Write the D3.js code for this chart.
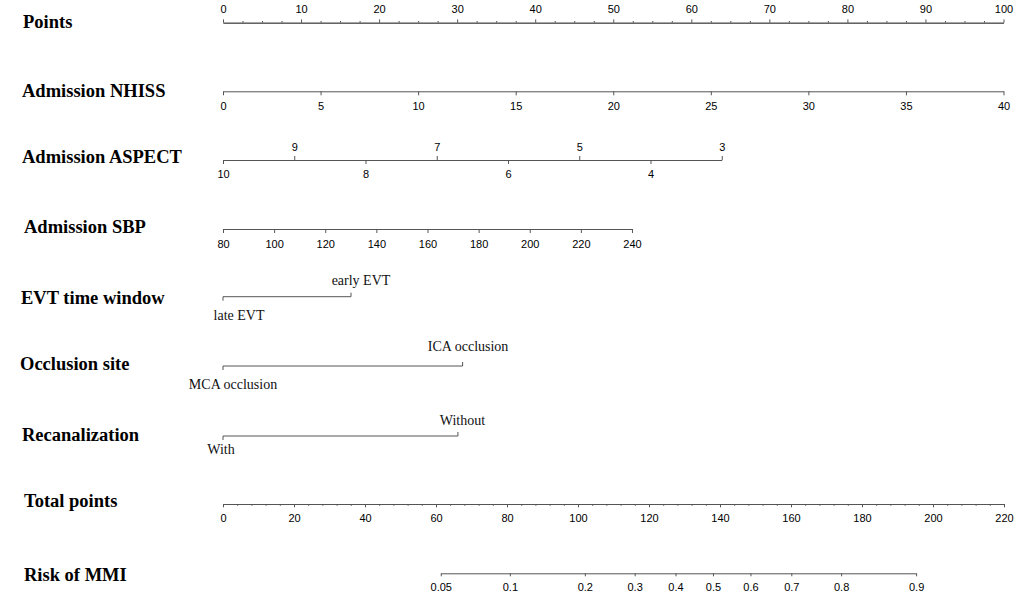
<!DOCTYPE html>
<html>
<head>
<meta charset="utf-8">
<script src="https://cdn.jsdelivr.net/npm/d3@7"></script>
<style>
  body { margin: 0; background: #fff; }
  .name { font-family: "Liberation Serif", "Times New Roman", serif; font-weight: bold; font-size: 18.5px; fill: #000; }
  .axis text { font-family: "Liberation Sans", Arial, sans-serif; font-size: 11px; fill: #000; }
  .axis path, .axis line { stroke: #555; stroke-width: 1; }
  .cat text { font-family: "Liberation Serif", "Times New Roman", serif; font-size: 14px; fill: #111; }
</style>
</head>
<body>
<svg id="nomo" width="1021" height="596"></svg>
<script>
// row names
var rowNames = ["Points", "Admission NHISS", "Admission ASPECT", "Admission SBP",
    "EVT time window", "Occlusion site", "Recanalization", "Total points", "Risk of MMI"];

// points scale
var pointsTicks = [0, 10, 20, 30, 40, 50, 60, 70, 80, 90, 100];

// continuous predictors: value range and points at the far end
var nhissTicks = [0, 5, 10, 15, 20, 25, 30, 35, 40];
var nhissRange = [0, 40], nhissPoints = 100;

var aspectTicksTop = [9, 7, 5, 3];
var aspectTicksBottom = [10, 8, 6, 4];
var aspectRange = [10, 3], aspectPoints = 63.9;

var sbpTicks = [80, 100, 120, 140, 160, 180, 200, 220, 240];
var sbpRange = [80, 240], sbpPoints = 52.4;

// categorical predictors
var evtLevels = ["late EVT", "early EVT"];
var evtPoints = [0, 16.4];
var occlusionLevels = ["MCA occlusion", "ICA occlusion"];
var occlusionPoints = [0, 30.7];
var recanLevels = ["With", "Without"];
var recanPoints = [0, 30.1];

// total points and risk
var totalTicks = [0, 20, 40, 60, 80, 100, 120, 140, 160, 180, 200, 220];
var riskTicks = [0.05, 0.1, 0.2, 0.3, 0.4, 0.5, 0.6, 0.7, 0.8, 0.9];
var riskIntercept = -5.30, riskSlope = 0.0384;

// layout
var rowY = [22.7, 91.3, 160, 229, 296.7, 366, 436, 504, 573.3];
var nameY = [28, 97, 163, 233, 304, 370, 441, 507, 581];
var nameX = [23, 22, 22, 24, 21, 20, 22, 24, 24];

var svg = d3.select("#nomo");

var pointsX = d3.scaleLinear().domain([0, 100]).range([223, 1003.5]);
var totalX = d3.scaleLinear().domain([0, 220]).range([223, 1004]);

svg.selectAll("text.name")
    .data(rowNames)
    .enter().append("text")
    .attr("class", "name")
    .attr("x", function (d, i) { return nameX[i]; })
    .attr("y", function (d, i) { return nameY[i]; })
    .text(function (d) { return d; });

function drawAxis(y, axis, noLabels) {
    var g = svg.append("g")
        .attr("class", "axis")
        .attr("transform", "translate(0," + y + ")")
        .call(axis);
    g.attr("font-family", null).attr("font-size", null);
    if (noLabels) g.selectAll("text").remove();
    return g;
}

function valueScale(range, pts) {
    return d3.scaleLinear().domain(range).range([pointsX(0), pointsX(pts)]);
}

var plain = d3.format("d");

// Points
var ptsMinor = d3.range(0, 100.1, 2.5).filter(function (v) { return v % 10 !== 0; });
drawAxis(rowY[0], d3.axisTop(pointsX).tickValues(ptsMinor).tickSize(1.7).tickSizeOuter(0), true);
drawAxis(rowY[0], d3.axisTop(pointsX).tickValues(pointsTicks).tickSize(3.3).tickSizeOuter(0).tickPadding(6));

// Admission NHISS
var nhissX = valueScale(nhissRange, nhissPoints);
drawAxis(rowY[1], d3.axisBottom(nhissX).tickValues(nhissTicks).tickSize(4).tickSizeOuter(0).tickPadding(7));

// Admission ASPECT
var aspectX = valueScale(aspectRange, aspectPoints);
drawAxis(rowY[2], d3.axisTop(aspectX).tickValues(aspectTicksTop).tickFormat(plain)
    .tickSize(4).tickSizeOuter(0).tickPadding(5.3));
drawAxis(rowY[2], d3.axisBottom(aspectX).tickValues(aspectTicksBottom).tickFormat(plain)
    .tickSize(4).tickSizeOuter(0).tickPadding(6.5))
    .select(".domain").remove();

// Admission SBP
var sbpX = valueScale(sbpRange, sbpPoints);
drawAxis(rowY[3], d3.axisBottom(sbpX).tickValues(sbpTicks).tickSize(4).tickSizeOuter(0).tickPadding(7));

// categorical rows: low level below the line, high level above
var catRows = [
    {row: 4, levels: evtLevels, pts: evtPoints, nudge: [16, 10], above: 12, below: 23.3},
    {row: 5, levels: occlusionLevels, pts: occlusionPoints, nudge: [10, 5.5], above: 15, below: 23},
    {row: 6, levels: recanLevels, pts: recanPoints, nudge: [-2, 4.5], above: 11, below: 18}
];

catRows.forEach(function (c) {
    var g = svg.append("g")
        .attr("class", "axis cat")
        .attr("transform", "translate(0," + rowY[c.row] + ")");
    var xs = c.pts.map(function (p) { return pointsX(p); });
    g.append("path").attr("fill", "none")
        .attr("d", "M" + xs[0] + ",0H" + xs[1]);
    g.append("line").attr("x1", xs[0]).attr("x2", xs[0]).attr("y1", 0).attr("y2", 4);
    g.append("line").attr("x1", xs[1]).attr("x2", xs[1]).attr("y1", 0).attr("y2", -4);
    g.append("text").attr("text-anchor", "middle")
        .attr("x", xs[0] + c.nudge[0]).attr("y", c.below).text(c.levels[0]);
    g.append("text").attr("text-anchor", "middle")
        .attr("x", xs[1] + c.nudge[1]).attr("y", -c.above).text(c.levels[1]);
});

// Total points
var totMinor = d3.range(0, 220.1, 4).filter(function (v) { return v % 20 !== 0; });
drawAxis(rowY[7], d3.axisBottom(totalX).tickValues(totMinor).tickSize(1.8).tickSizeOuter(0), true);
drawAxis(rowY[7], d3.axisBottom(totalX).tickValues(totalTicks).tickSize(3.3).tickSizeOuter(0).tickPadding(6.5));

// Risk of MMI: linear in the logit of risk
function logit(p) { return Math.log(p / (1 - p)); }
function riskToX(p) { return totalX((logit(p) - riskIntercept) / riskSlope); }
var pLo = riskTicks[0], pHi = riskTicks[riskTicks.length - 1];
var riskX = d3.scaleLinear()
    .domain([logit(pLo), logit(pHi)])
    .range([riskToX(pLo), riskToX(pHi)]);
drawAxis(rowY[8], d3.axisBottom(riskX)
    .tickValues(riskTicks.map(logit))
    .tickFormat(function (d, i) { return riskTicks[i]; })
    .tickSize(3).tickSizeOuter(0).tickPadding(6.5));
</script>
</body>
</html>
